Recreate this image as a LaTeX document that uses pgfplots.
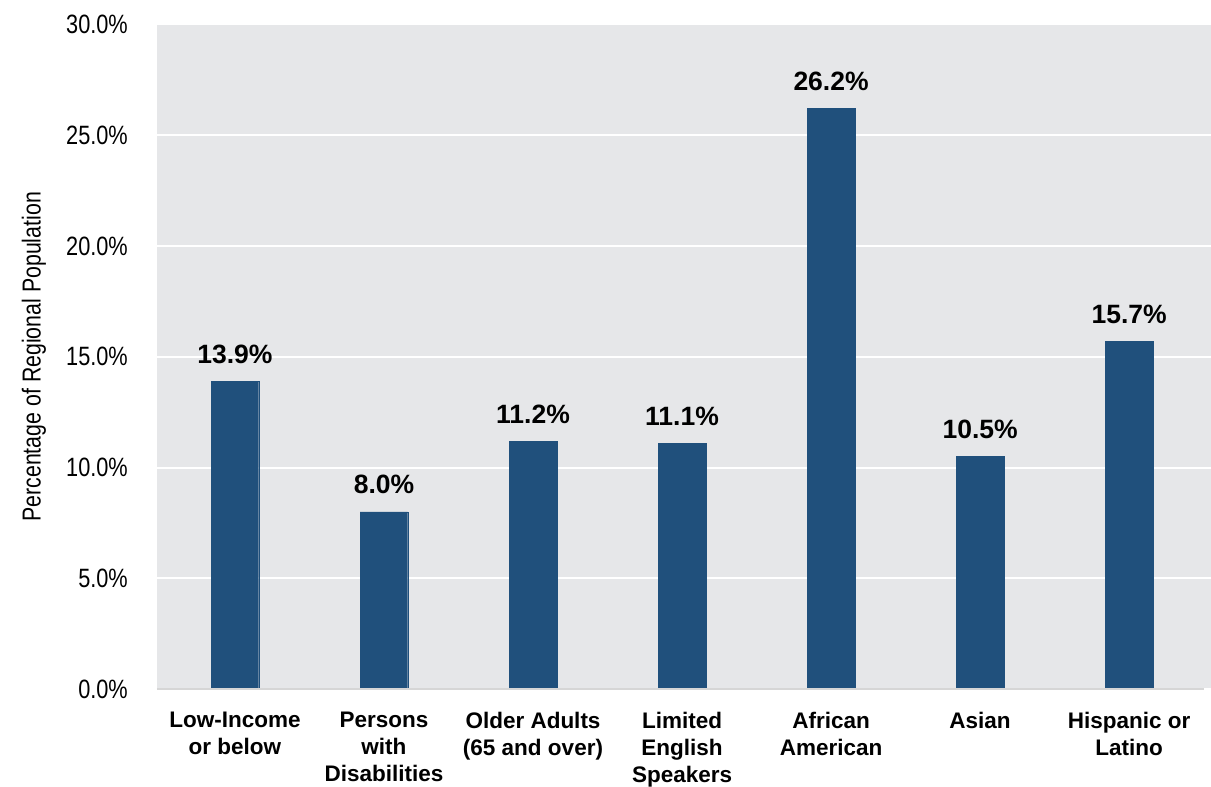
\documentclass[border=0pt]{standalone}
\usepackage{pgfplots}
\pgfplotsset{compat=1.18}
\usepackage{fontspec}
\setmainfont{Liberation Sans}
\newfontfamily\narrowfont[FakeStretch=0.82]{Liberation Sans}
\definecolor{barblue}{HTML}{20507C}
\definecolor{bggray}{HTML}{E6E7E9}
\definecolor{axgray}{HTML}{D6D6D6}
\begin{document}
\begin{tikzpicture}
\useasboundingbox (0,0) rectangle (1211pt,787pt);
\begin{axis}[
  at={(157pt,97.7pt)}, anchor=south west,
  scale only axis, width=1054pt, height=665pt,
  xmin=-0.523, xmax=6.549, ymin=0, ymax=30,
  axis background/.style={fill=bggray},
  axis line style={draw=none},
  major tick length=0pt,
  tick style={draw=none},
  ytick={0,5,10,15,20,25,30},
  ymajorgrids, grid style={white, line width=2pt},
  /pgf/number format/assume math mode=true,
  yticklabel={\pgfmathprintnumber[fixed,fixed zerofill,precision=1]{\tick}\%},
  yticklabel style={font=\narrowfont\fontsize{26.5}{30}\selectfont, inner sep=0pt, xshift=-29pt},
  xtick={0,1,2,3,4,5,6},
  xticklabels={{Low-Income\\or below},{Persons\\with\\Disabilities},{Older Adults\\(65 and over)},{Limited\\English\\Speakers},{African\\American},{Asian},{Hispanic or\\Latino}},
  xticklabel style={font=\bfseries\fontsize{22.5}{27}\selectfont, align=center, inner sep=0pt, anchor=north, yshift=-23pt},
  ylabel={Percentage of Regional Population},
  every axis y label/.style={at={(axis description cs:0,0.5)}, xshift=-123pt, rotate=90, anchor=center, font=\narrowfont\fontsize{26}{30}\selectfont},
  clip=false,
]
\addplot[ybar, bar width=0.319, fill=barblue, draw=barblue,
  nodes near coords={\pgfmathprintnumber[fixed,fixed zerofill,precision=1]{\pgfplotspointmeta}\%},
  nodes near coords style={anchor=base, yshift=18pt, inner sep=0pt, font=\bfseries\fontsize{26.5}{30}\selectfont, text=black},
  /pgf/number format/assume math mode=true,
] coordinates {
(0,13.9) (1,8.0) (2,11.2) (3,11.1) (4,26.2) (5,10.5) (6,15.7)
};
\draw[axgray, line width=2pt] (axis cs:-0.523,0) -- (axis cs:6.503,0);
\end{axis}
\end{tikzpicture}
\end{document}
